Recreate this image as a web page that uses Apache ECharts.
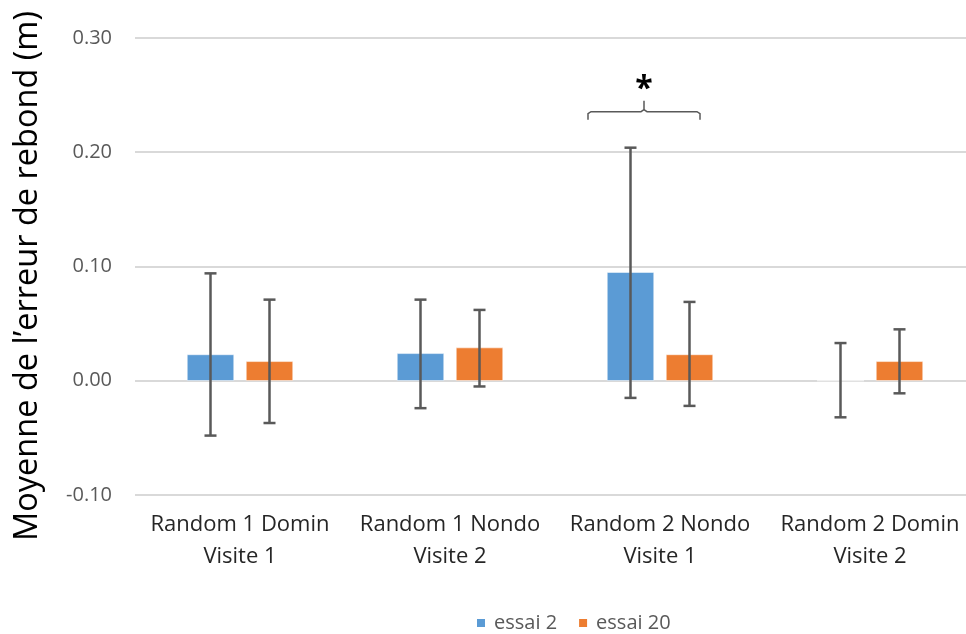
<!DOCTYPE html>
<html><head><meta charset="utf-8">
<script src="https://cdn.jsdelivr.net/npm/echarts@6/dist/echarts.min.js"></script>
<style>html,body{margin:0;padding:0;background:#fff;overflow:hidden}#c{width:976px;height:634px}</style>
</head><body><div id="c"></div>
<script>
const categories = ['Random 1 Domin\nVisite 1', 'Random 1 Nondo\nVisite 2', 'Random 2 Nondo\nVisite 1', 'Random 2 Domin\nVisite 2'];
const seriesNames = ['essai 2', 'essai 20'];
const essai2 = [0.023, 0.024, 0.095, 0.0];
const essai20 = [0.017, 0.029, 0.023, 0.017];
const essai2Low = [-0.048, -0.024, -0.015, -0.032];
const essai2High = [0.094, 0.071, 0.204, 0.033];
const essai20Low = [-0.037, -0.005, -0.022, -0.011];
const essai20High = [0.071, 0.062, 0.069, 0.045];
const yTicks = { min: -0.1, max: 0.3, interval: 0.1 };
const yTitle = 'Moyenne de l’erreur de rebond (m)';
const sigCategory = 2;
const sigValue = 0.2355;
const sigLabel = '*';

const colors = ['#5B9BD5', '#ED7D31'];
const barWidth = 47, barGap = 12;
const chart = echarts.init(document.getElementById('c'));

function errRender(offsetSign) {
  return function (params, api) {
    const x = api.value(0);
    const hi = api.coord([x, api.value(1)]);
    const lo = api.coord([x, api.value(2)]);
    const cx = hi[0] + offsetSign * (barWidth + barGap) / 2;
    const cap = 6;
    const style = { stroke: '#595959', lineWidth: 2.5 };
    return {
      type: 'group',
      children: [
        { type: 'line', shape: { x1: cx, y1: hi[1], x2: cx, y2: lo[1] }, style },
        { type: 'line', shape: { x1: cx - cap, y1: hi[1], x2: cx + cap, y2: hi[1] }, style },
        { type: 'line', shape: { x1: cx - cap, y1: lo[1], x2: cx + cap, y2: lo[1] }, style }
      ]
    };
  };
}

chart.setOption({
  animation: false,
  textStyle: { fontFamily: 'Open Sans' },
  grid: { left: 135, top: 38, right: 1, bottom: 139 },
  legend: {
    data: seriesNames, top: 608, left: 470, itemWidth: 10, itemHeight: 10, itemGap: 20,
    icon: 'rect', textStyle: { fontSize: 20, color: '#595959', fontFamily: 'Open Sans', padding: [0, 0, 0, 3] }
  },
  graphic: [{
    type: 'text', x: 28, y: 276, rotation: Math.PI / 2,
    style: { text: yTitle, fontSize: 32.5, fontFamily: 'Open Sans', fill: '#000', align: 'center', verticalAlign: 'middle' }
  }],
  xAxis: {
    type: 'category', data: categories,
    axisLine: { show: false, onZero: false }, axisTick: { show: false },
    axisLabel: { fontSize: 22, color: '#262626', lineHeight: 32, margin: 14, interval: 0 }
  },
  yAxis: {
    type: 'value', min: yTicks.min, max: yTicks.max, interval: yTicks.interval,
    axisLabel: { fontSize: 20, color: '#595959', margin: 23, formatter: v => v.toFixed(2) },
    splitLine: { lineStyle: { color: '#d9d9d9', width: 2 } },
    axisLine: { show: false }, axisTick: { show: false }
  },
  series: [
    { name: seriesNames[0], type: 'bar', data: essai2, barWidth: barWidth, barGap: (barGap / barWidth * 100) + '%',
      itemStyle: { color: colors[0], borderColor: '#fff', borderWidth: 0.5 } },
    { name: seriesNames[1], type: 'bar', data: essai20, barWidth: barWidth,
      itemStyle: { color: colors[1], borderColor: '#fff', borderWidth: 0.5 } },
    { type: 'custom', renderItem: errRender(-1), z: 10,
      data: categories.map((c, i) => [i, essai2High[i], essai2Low[i]]) },
    { type: 'custom', renderItem: errRender(1), z: 10,
      data: categories.map((c, i) => [i, essai20High[i], essai20Low[i]]) },
    { type: 'custom', z: 10,
      data: [[sigCategory, sigValue]],
      renderItem: function (params, api) {
        const p = api.coord([api.value(0), api.value(1)]);
        const cx = p[0] - 16, y = p[1], hw = 56;
        const st = { stroke: '#595959', lineWidth: 1.5, fill: 'none' };
        return {
          type: 'group', children: [
            { type: 'polyline', shape: { points: [[cx - hw, y + 8], [cx - hw, y + 2], [cx - hw + 3, y], [cx - 3, y], [cx, y - 2], [cx, y - 11]] }, style: st },
            { type: 'polyline', shape: { points: [[cx + hw, y + 8], [cx + hw, y + 2], [cx + hw - 3, y], [cx + 3, y], [cx, y - 2]] }, style: st },
            { type: 'text', style: { text: sigLabel, x: cx, y: y - 22, align: 'center', verticalAlign: 'middle', fontSize: 32, fontWeight: 'bold', fontFamily: 'Open Sans', fill: '#000' } }
          ]
        };
      }
    }
  ]
});
</script></body></html>
